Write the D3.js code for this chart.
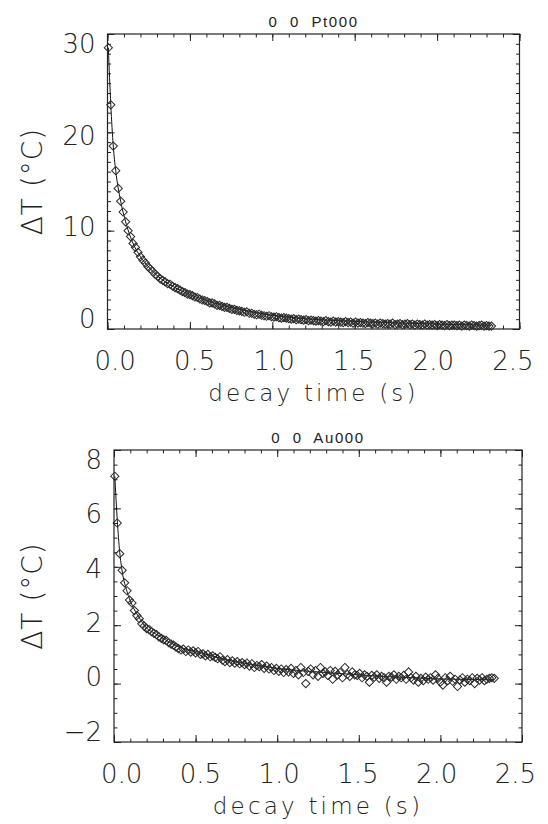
<!DOCTYPE html>
<html><head><meta charset="utf-8">
<script src="https://cdn.jsdelivr.net/npm/d3@7"></script>
<style>body{margin:0;background:#fff}</style>
</head><body>
<svg id="c" width="548" height="824"></svg>
<script>
// ---- data ----
const sampleStart = 0.005;   // s, time of first sample
const sampleStep = 0.015;    // s, sample spacing

const ptValues = [
  28.6, 22.8, 18.6, 16.1, 14.3, 13.0, 11.9, 10.9, 10.0, 9.4,
  8.7, 8.3, 7.8, 7.35, 7.0, 6.7, 6.35, 6.1, 5.85, 5.55,
  5.35, 5.1, 4.95, 4.8, 4.6, 4.55, 4.35, 4.2, 4.1, 3.95,
  3.8, 3.7, 3.55, 3.5, 3.4, 3.25, 3.2, 3.05, 2.95, 2.9,
  2.8, 2.65, 2.65, 2.55, 2.4, 2.4, 2.3, 2.2, 2.2, 2.1,
  2.0, 2.0, 1.9, 1.85, 1.8, 1.7, 1.75, 1.6, 1.6, 1.5,
  1.45, 1.5, 1.4, 1.35, 1.3, 1.35, 1.25, 1.2, 1.25, 1.15,
  1.1, 1.15, 1.1, 1.05, 1.0, 1.05, 0.95, 1.0, 0.95, 0.9,
  0.95, 0.85, 0.9, 0.85, 0.8, 0.85, 0.8, 0.75, 0.85, 0.75,
  0.7, 0.8, 0.7, 0.75, 0.7, 0.65, 0.75, 0.65, 0.7, 0.6,
  0.7, 0.6, 0.65, 0.6, 0.55, 0.65, 0.6, 0.55, 0.6, 0.5,
  0.6, 0.55, 0.5, 0.55, 0.5, 0.6, 0.45, 0.5, 0.55, 0.45,
  0.5, 0.55, 0.45, 0.5, 0.4, 0.5, 0.45, 0.4, 0.5, 0.4,
  0.45, 0.4, 0.45, 0.35, 0.45, 0.4, 0.35, 0.45, 0.35, 0.4,
  0.4, 0.35, 0.4, 0.3, 0.4, 0.35, 0.3, 0.4, 0.35, 0.3,
  0.35, 0.4, 0.3, 0.35, 0.3, 0.3
];

const auValues = [
  7.1, 5.5, 4.45, 3.88, 3.45, 3.18, 2.86, 2.76, 2.5, 2.33,
  2.22, 2.05, 1.97, 1.88, 1.85, 1.78, 1.72, 1.68, 1.6, 1.55,
  1.5, 1.48, 1.4, 1.35, 1.32, 1.25, 1.2, 1.15, 1.18, 1.1,
  1.15, 1.08, 1.12, 1.05, 1.1, 1.0, 1.02, 0.95, 1.0, 0.92,
  0.95, 0.9, 0.85, 0.92, 0.8, 0.75, 0.82, 0.72, 0.78, 0.7,
  0.75, 0.68, 0.72, 0.65, 0.7, 0.6, 0.68, 0.55, 0.62, 0.58,
  0.65, 0.52, 0.6, 0.5, 0.55, 0.45, 0.52, 0.42, 0.5, 0.38,
  0.48, 0.4, 0.52, 0.35, 0.45, 0.3, 0.55, 0.38, 0.0, 0.42,
  0.5, 0.3, 0.45, 0.25, 0.55, 0.35, 0.4, 0.28, 0.45, 0.15,
  0.42, 0.3, 0.38, 0.2, 0.55, 0.32, 0.25, 0.4, 0.3, 0.28,
  0.35, 0.2, 0.3, 0.25, 0.05, 0.28, 0.22, 0.3, 0.18, 0.25,
  0.2, 0.05, 0.25, 0.22, 0.3, 0.15, 0.25, 0.2, 0.28, 0.15,
  0.4, 0.2, 0.12, 0.25, 0.05, 0.18, 0.1, 0.22, 0.15, 0.2,
  0.12, 0.3, 0.18, 0.05, -0.05, 0.2, 0.1, 0.25, 0.08, 0.15,
  -0.1, 0.12, 0.2, 0.05, 0.15, 0.1, 0.2, 0.0, 0.18, 0.12,
  0.2, 0.1, 0.15, 0.18, 0.2, 0.18
];

const fitTimes = [0.005, 0.02, 0.035, 0.05, 0.08, 0.11, 0.15, 0.2, 0.25, 0.3, 0.4, 0.5, 0.6, 0.7, 0.8, 1.0, 1.2, 1.4, 1.6, 1.8, 2.0, 2.2, 2.33];
const ptFit  = [28.6, 22.8, 18.6, 16.1, 13.0, 10.9, 8.9, 7.35, 6.3, 5.45, 4.3, 3.5, 2.9, 2.4, 2.0, 1.4, 1.05, 0.85, 0.7, 0.6, 0.5, 0.42, 0.38];
const auFit  = [7.1, 5.6, 4.5, 3.85, 3.15, 2.7, 2.3, 1.9, 1.72, 1.55, 1.25, 1.1, 0.95, 0.8, 0.7, 0.52, 0.42, 0.34, 0.26, 0.21, 0.16, 0.14, 0.13];

const xTickLabels = [0, 0.5, 1.0, 1.5, 2.0, 2.5];
const ptYTicks = [0, 10, 20, 30];
const auYTicks = [-2, 0, 2, 4, 6, 8];
const panelTitles = ["0  0  Pt000", "0  0  Au000"];
const xTitle = "decay time (s)";
const yTitle = "ΔT (°C)";

// ---- drawing ----
const svg = d3.select("#c");
const FONT = "'DejaVu Sans', 'Liberation Sans', sans-serif";
const INK = "#222";

function drawPanel(p) {
  const x = d3.scaleLinear().domain([0, 2.5]).range([p.left, p.right]);
  const y = d3.scaleLinear().domain(p.yDomain).range([p.bottom, p.top]);
  const g = svg.append("g");
  const xMinor = d3.range(0, 2.5001, 0.1);
  const yMinor = d3.range(p.yDomain[0], p.yDomain[1] + 1e-6, p.yMinorStep);
  const MAJ = 7, MIN = 3.5;

  function axisGroup(axis, tx, ty) {
    const a = g.append("g").attr("transform", `translate(${tx},${ty})`).call(axis);
    a.select(".domain").remove();
    a.selectAll("line").attr("stroke", INK).attr("stroke-width", 1);
    return a;
  }
  axisGroup(d3.axisBottom(x).tickValues(xMinor).tickSize(-MIN).tickFormat(""), 0, p.bottom);
  axisGroup(d3.axisTop(x).tickValues(xMinor).tickSize(-MIN).tickFormat(""), 0, p.top);
  axisGroup(d3.axisLeft(y).tickValues(yMinor).tickSize(-MIN).tickFormat(""), p.left, 0);
  axisGroup(d3.axisRight(y).tickValues(yMinor).tickSize(-MIN).tickFormat(""), p.right, 0);
  const xb = axisGroup(d3.axisBottom(x).tickValues(xTickLabels).tickSize(-MAJ).tickFormat(d3.format(".1f")), 0, p.bottom);
  axisGroup(d3.axisTop(x).tickValues(xTickLabels).tickSize(-MAJ).tickFormat(""), 0, p.top);
  const yl = axisGroup(d3.axisLeft(y).tickValues(p.yTicks).tickSize(-MAJ).tickPadding(12).tickFormat(d3.format("d")), p.left, 0);
  axisGroup(d3.axisRight(y).tickValues(p.yTicks).tickSize(-MAJ).tickFormat(""), p.right, 0);

  const xc = (p.left + p.right) / 2, yc = (p.top + p.bottom) / 2;
  xb.selectAll("text")
    .attr("font-family", FONT).attr("font-weight", 200).attr("font-size", 26).attr("fill", INK)
    .attr("y", 41).attr("dy", 0)
    .attr("x", d => (xc + (x(d) - xc) * 0.965) - x(d));
  yl.selectAll("text")
    .attr("font-family", FONT).attr("font-weight", 200).attr("font-size", 26).attr("fill", INK)
    .attr("y", d => (yc + (y(d) - yc) * 0.93) - y(d));

  g.append("rect").attr("x", p.left).attr("y", p.top)
    .attr("width", p.right - p.left).attr("height", p.bottom - p.top)
    .attr("fill", "none").attr("stroke", INK).attr("stroke-width", 1.2);

  const line = d3.line().x(d => x(d[0])).y(d => y(d[1])).curve(d3.curveMonotoneX);
  g.append("path").datum(fitTimes.map((t, i) => [t, p.fit[i]]))
    .attr("d", line).attr("fill", "none").attr("stroke", "#111").attr("stroke-width", 1);

  const sym = d3.symbol().type(d3.symbolSquare).size(34);
  g.append("g").selectAll("path").data(p.values).join("path")
    .attr("d", sym)
    .attr("transform", (v, i) => `translate(${x(sampleStart + i * sampleStep)},${y(v)}) rotate(45)`)
    .attr("fill", "none").attr("stroke", "#2a2a2a").attr("stroke-width", 1);

  g.append("text").attr("x", xc).attr("y", p.top - 7.5).attr("text-anchor", "middle")
    .attr("font-family", "'Liberation Sans', Arial, sans-serif").attr("font-size", 15).attr("letter-spacing", 1.6)
    .attr("fill", INK).style("white-space", "pre").text(p.title);
  g.append("text").attr("x", xc).attr("y", p.bottom + 72).attr("text-anchor", "middle")
    .attr("font-family", FONT).attr("font-weight", 200).attr("font-size", 23).attr("letter-spacing", 3.2)
    .attr("fill", INK).text(xTitle);
  g.append("text").attr("transform", `translate(42,${yc}) rotate(-90)`).attr("text-anchor", "middle")
    .attr("font-family", FONT).attr("font-weight", 200).attr("font-size", 28).attr("letter-spacing", 1)
    .attr("fill", INK).text(yTitle);
}

drawPanel({ left: 107.5, right: 519.5, top: 34, bottom: 329, yDomain: [0, 30], yTicks: ptYTicks, yMinorStep: 1,
            values: ptValues, fit: ptFit, title: panelTitles[0] });
drawPanel({ left: 114, right: 522, top: 450, bottom: 742, yDomain: [-2, 8], yTicks: auYTicks, yMinorStep: 0.5,
            values: auValues, fit: auFit, title: panelTitles[1] });
</script>
</body></html>
